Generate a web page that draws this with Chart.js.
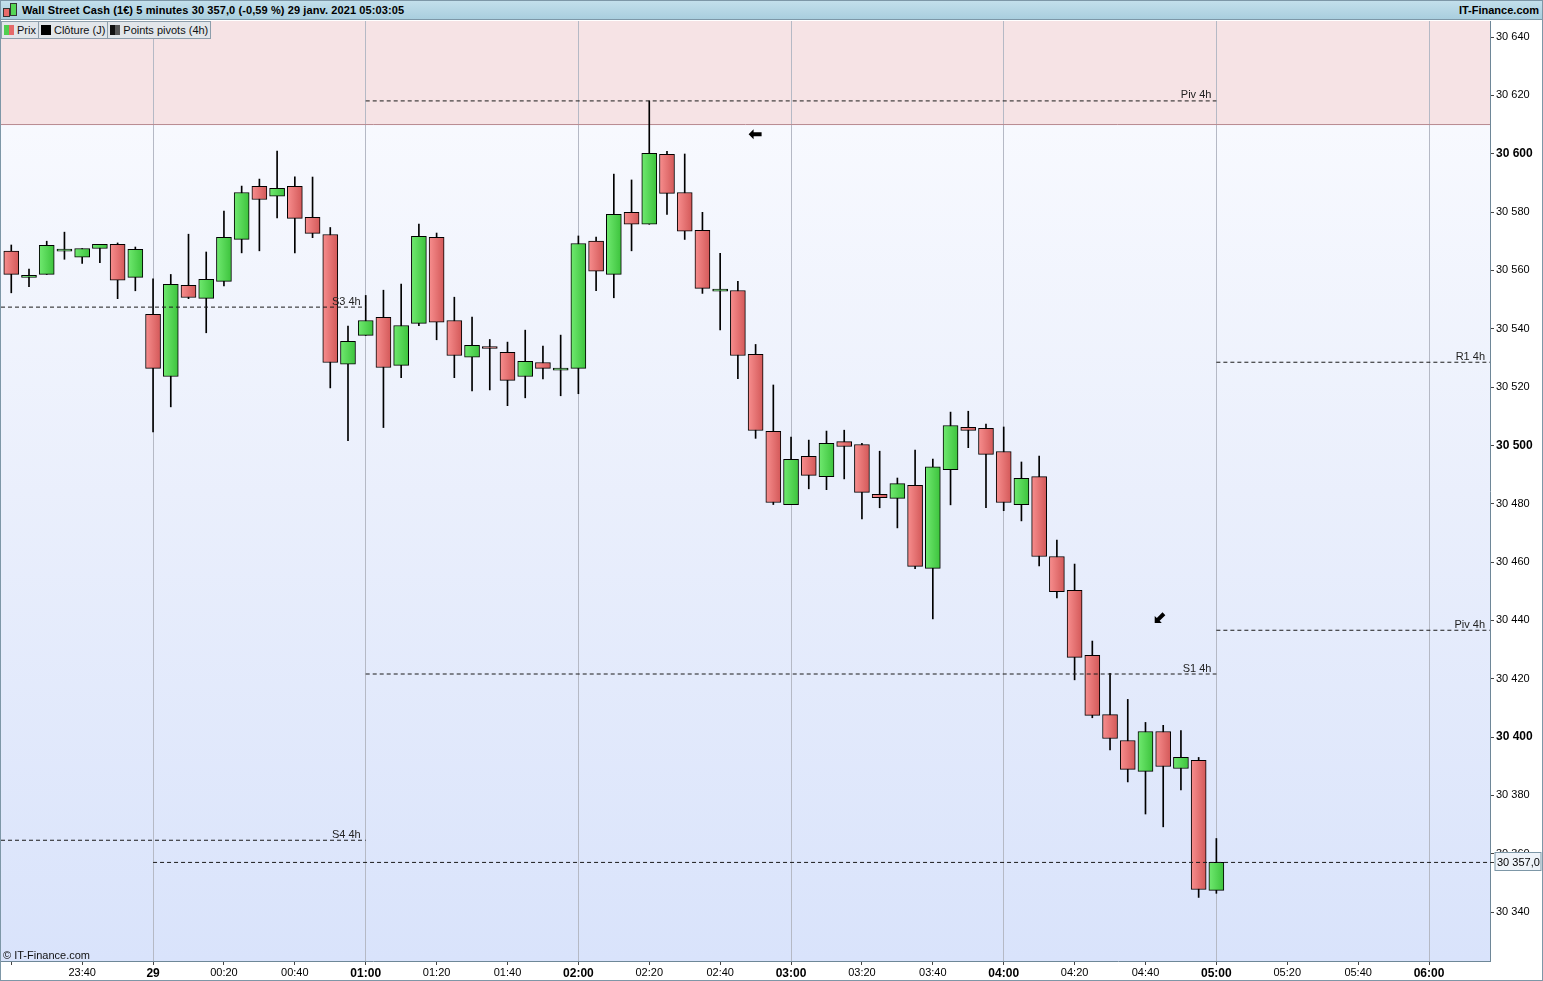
<!DOCTYPE html>
<html>
<head>
<meta charset="utf-8">
<title>Wall Street Cash (1€) 5 minutes</title>
<script src="https://cdn.jsdelivr.net/npm/chart.js@4.4.1/dist/chart.umd.min.js"></script>
<style>
  body { margin: 0; background: #fff; font-family: "Liberation Sans", Arial, sans-serif; }
  #wrap { position: relative; width: 1543px; height: 981px; overflow: hidden; }
  #chart { position: absolute; left: 0; top: 0; }
  #head {
    position: absolute; left: 0; top: 0; width: 1543px; height: 20px;
    background: linear-gradient(#c4e0ec, #a9cede);
    border-bottom: 1px solid #7d97a7; box-sizing: border-box;
    font-weight: bold; font-size: 11px; color: #000;
  }
  #head .title { position: absolute; left: 22px; top: 4px; letter-spacing: 0.1px; }
  #head .brand { position: absolute; right: 4px; top: 4px; }
  #head .ic { position: absolute; border: 1px solid #333; }
  #legend { position: absolute; left: 1px; top: 21px; height: 17px; display: flex; }
  #legend span {
    display: flex; align-items: center; height: 16px; padding: 0 2px 0 2px;
    background: #e2e6ea; border: 1px solid #8d9eab; border-left: none;
    font-size: 11px; color: #111;
  }
  #legend span:first-child { border-left: 1px solid #8d9eab; }
  #legend i { display: inline-block; width: 10px; height: 10px; margin-right: 3px; }
  #copy { position: absolute; left: 3px; top: 949px; font-size: 11px; color: #111; }
  #frame { position: absolute; left: 0; top: 0; width: 1543px; height: 981px; box-sizing: border-box; border: 1px solid #7d97a7; pointer-events: none; }
</style>
</head>
<body>
<div id="wrap">
  <canvas id="chart" width="1543" height="981"></canvas>
  <div id="head">
    <div class="ic" style="left:3px;top:8px;width:5px;height:7px;background:#e86a6a"></div>
    <div class="ic" style="left:10px;top:3px;width:5px;height:11px;background:#55d655"></div>
    <div class="title">Wall Street Cash (1€) 5 minutes 30 357,0 (-0,59 %) 29 janv. 2021 05:03:05</div>
    <div class="brand">IT-Finance.com</div>
  </div>
  <div id="legend">
    <span><i style="background:linear-gradient(90deg,#4fcf4f 50%,#e56a6a 50%)"></i>Prix</span>
    <span><i style="background:#000"></i>Clôture (J)</span>
    <span><i style="background:linear-gradient(90deg,#111 50%,#555 50%)"></i>Points pivots (4h)</span>
  </div>
  <div id="copy">© IT-Finance.com</div>
  <div id="frame"></div>
</div>
<script>
// 5 minute candles, 28 -> 29 janv. 2021
var times = ["23:20","23:25","23:30","23:35","23:40","23:45","23:50","23:55",
  "00:00","00:05","00:10","00:15","00:20","00:25","00:30","00:35","00:40","00:45","00:50","00:55",
  "01:00","01:05","01:10","01:15","01:20","01:25","01:30","01:35","01:40","01:45","01:50","01:55",
  "02:00","02:05","02:10","02:15","02:20","02:25","02:30","02:35","02:40","02:45","02:50","02:55",
  "03:00","03:05","03:10","03:15","03:20","03:25","03:30","03:35","03:40","03:45","03:50","03:55",
  "04:00","04:05","04:10","04:15","04:20","04:25","04:30","04:35","04:40","04:45","04:50","04:55",
  "05:00"];

var open = [30566.6,30557.6,30558.6,30566.6,30564.5,30567.5,30568.9,30557.6,
  30544.9,30523.6,30554.9,30550.4,30556.2,30570.6,30588.8,30585.4,30588.8,30578.2,30572.3,30527.8,
  30537.7,30543.9,30527.4,30541.8,30571.3,30542.8,30530.2,30533.9,30531.9,30523.6,30528.4,30525.8,
  30526.4,30570.0,30558.6,30579.9,30575.8,30599.8,30586.7,30573.7,30552.9,30553.1,30531.2,30504.8,
  30479.7,30496.2,30489.3,30501.3,30500.3,30483.2,30481.8,30486.3,30457.8,30491.7,30506.2,30505.8,
  30497.9,30479.7,30489.3,30461.9,30450.3,30428.0,30407.7,30398.8,30388.2,30401.9,30389.2,30392.0,
  30347.4];
var high = [30568.7,30560.4,30570.0,30573.1,30567.5,30568.9,30569.4,30568.0,
  30557.1,30558.6,30572.4,30566.3,30580.3,30588.9,30591.3,30600.9,30592.1,30592.0,30574.7,30540.9,
  30551.4,30553.2,30555.3,30575.9,30572.8,30550.8,30544.0,30536.3,30535.4,30539.5,30534.0,30537.8,
  30571.8,30571.4,30593.0,30591.0,30618.1,30600.8,30599.9,30579.9,30565.8,30556.2,30534.6,30520.7,
  30502.8,30501.8,30504.9,30505.2,30500.7,30498.0,30488.8,30498.4,30495.3,30511.4,30511.7,30507.3,
  30506.3,30494.3,30496.3,30467.5,30459.3,30432.9,30421.8,30412.9,30405.0,30404.0,30402.2,30393.0,
  30365.2];
var low = [30552.3,30554.4,30558.6,30563.8,30562.4,30562.6,30550.3,30553.0,
  30504.6,30513.2,30550.3,30538.6,30554.7,30566.0,30566.7,30578.0,30566.0,30571.2,30519.7,30501.6,
  30537.7,30506.1,30523.2,30541.0,30536.2,30523.2,30518.7,30519.0,30513.6,30516.3,30522.8,30517.0,
  30517.7,30553.0,30550.6,30566.7,30575.8,30579.2,30570.6,30552.1,30539.6,30522.9,30502.4,30479.7,
  30479.7,30485.1,30484.8,30488.5,30474.8,30478.6,30471.7,30457.7,30440.5,30479.6,30499.2,30478.6,
  30477.6,30474.1,30458.7,30447.7,30419.6,30406.6,30395.6,30384.6,30373.6,30369.2,30381.9,30345.0,
  30346.4];
var close = [30558.6,30558.3,30568.6,30566.6,30567.5,30568.9,30556.6,30567.2,
  30526.4,30555.2,30550.7,30556.9,30571.3,30586.7,30584.3,30588.1,30577.8,30572.7,30528.4,30535.7,
  30542.8,30526.7,30541.1,30571.7,30542.2,30530.8,30534.3,30533.2,30522.3,30528.8,30526.4,30525.8,
  30569.2,30559.7,30579.2,30575.8,30600.1,30586.4,30573.4,30553.8,30552.9,30530.8,30505.1,30480.4,
  30495.2,30489.7,30500.7,30499.6,30483.9,30482.1,30486.9,30458.5,30492.6,30506.8,30505.1,30496.9,
  30480.4,30488.7,30461.9,30449.8,30427.3,30407.4,30399.5,30388.9,30401.9,30389.9,30393.0,30347.7,
  30357.0];

// pivot points (4h), each with the period it covers
var pivotNames = ["S3 4h", "S4 4h", "Piv 4h", "S1 4h", "R1 4h", "Piv 4h"];
var pivotValues = [30547.4, 30364.6, 30618.1, 30421.6, 30528.5, 30436.6];
var pivotFrom = ["start", "start", "01:00", "01:00", "05:00", "05:00"];
var pivotTo = ["01:00", "01:00", "05:00", "05:00", "end", "end"];

var prevClose = 30610;      // Clôture (J)
var lastPrice = 30357.0;
var lastPriceFrom = "00:00";
var lastPriceText = "30 357,0";

// markers
var arrowTimes = ["02:50", "04:44"];
var arrowValues = [30606.7, 30440.8];
var arrowAngles = [0, -45];

// axes
var xTickValues = [-40,-20,0,20,40,60,80,100,120,140,160,180,200,220,240,260,280,300,320,340,360];
var xTickLabels = ["","23:40","29","00:20","00:40","01:00","01:20","01:40","02:00","02:20","02:40",
  "03:00","03:20","03:40","04:00","04:20","04:40","05:00","05:20","05:40","06:00"];
var yTickValues = [30340,30360,30380,30400,30420,30440,30460,30480,30500,30520,30540,30560,30580,30600,30620,30640];
var xMin = -42.9, xMax = 377.2;
var yMin = 30323.2, yMax = 30645.5;

function toMin(t) {
  if (t === "start") return xMin;
  if (t === "end") return xMax;
  var p = t.split(":").map(Number);
  return (p[0] >= 12 ? p[0] - 24 : p[0]) * 60 + p[1];
}
function fmtNum(v) {
  return String(Math.round(v)).replace(/\B(?=(\d{3})+(?!\d))/g, " ");
}

var mins = times.map(toMin);
var FONT = "'Liberation Sans', Arial, sans-serif";
Chart.defaults.font.family = FONT;

function bodyFill(ctx) {
  var i = ctx.dataIndex;
  if (i === undefined) return "#888";
  var up = close[i] >= open[i];
  var cols = up ? ["#6ee86e", "#3ec43e"] : ["#f68c8c", "#d45a5a"];
  var chart = ctx.chart;
  var xs = chart.scales && chart.scales.x;
  if (!chart.chartArea || !xs) return cols[0];
  var px = xs.getPixelForValue(mins[i]);
  var g = chart.ctx.createLinearGradient(px - 7, 0, px + 7, 0);
  g.addColorStop(0, cols[0]);
  g.addColorStop(1, cols[1]);
  return g;
}

function hline(label, value, from, to, order, color) {
  return {
    type: "line", label: label,
    data: [{ x: toMin(from), y: value }, { x: toMin(to), y: value }],
    borderColor: color || "#1a1a1a", borderWidth: 1, borderDash: [4, 3],
    pointRadius: 0, fill: false, order: order
  };
}

var datasets = [
  {
    type: "line", label: "Clôture (J)",
    data: [{ x: xMin, y: prevClose }, { x: xMax, y: prevClose }],
    borderColor: "#b88a90", borderWidth: 1, pointRadius: 0, fill: false, order: 6
  },
  {
    type: "bar", label: "mèches",
    data: mins.map(function (m, i) { return { x: m, y: [low[i], high[i]] }; }),
    backgroundColor: "#000", borderWidth: 0, barThickness: 1, grouped: false, order: 5
  },
  {
    type: "bar", label: "Prix",
    data: mins.map(function (m, i) { return { x: m, y: [open[i], close[i]] }; }),
    backgroundColor: bodyFill, borderColor: "#000", borderWidth: 1, borderSkipped: false,
    barThickness: 15, minBarLength: 2, grouped: false, order: 4
  }
];
pivotNames.forEach(function (n, i) {
  datasets.push(hline(n, pivotValues[i], pivotFrom[i], pivotTo[i], 2));
});
datasets.push(hline("Dernier", lastPrice, lastPriceFrom, "end", 1));

var decorPlugin = {
  id: "decor",
  beforeDraw: function (chart) {
    var c = chart.ctx, a = chart.chartArea, y = chart.scales.y;
    c.save();
    var g = c.createLinearGradient(0, a.top, 0, a.bottom);
    g.addColorStop(0, "#fbfcff");
    g.addColorStop(0.5, "#eaeffc");
    g.addColorStop(1, "#d9e3fb");
    c.fillStyle = g;
    c.fillRect(a.left, a.top, a.right - a.left, a.bottom - a.top);
    var yc = y.getPixelForValue(prevClose);
    c.fillStyle = "#f6e3e5";
    c.fillRect(a.left, a.top, a.right - a.left, yc - a.top);
    c.restore();
  },
  afterDatasetsDraw: function (chart) {
    var c = chart.ctx, x = chart.scales.x, y = chart.scales.y;
    c.save();
    c.font = "11px " + FONT;
    c.fillStyle = "#222";
    c.textAlign = "right";
    c.textBaseline = "bottom";
    pivotNames.forEach(function (n, i) {
      var px = x.getPixelForValue(toMin(pivotTo[i]));
      var py = y.getPixelForValue(pivotValues[i]);
      c.fillText(n, px - 5, py);
    });
    c.fillStyle = "#000";
    arrowTimes.forEach(function (t, i) {
      var px = x.getPixelForValue(toMin(t));
      var py = y.getPixelForValue(arrowValues[i]);
      c.save();
      c.translate(px, py);
      c.rotate(arrowAngles[i] * Math.PI / 180);
      c.beginPath();
      c.moveTo(-7, 0); c.lineTo(-2, -5); c.lineTo(-2, -2); c.lineTo(6, -2);
      c.lineTo(6, 2); c.lineTo(-2, 2); c.lineTo(-2, 5); c.closePath();
      c.fill();
      c.restore();
    });
    c.restore();
  },
  afterDraw: function (chart) {
    var c = chart.ctx, a = chart.chartArea, y = chart.scales.y;
    var py = Math.round(y.getPixelForValue(lastPrice)) + 0.5;
    c.save();
    c.strokeStyle = "#333";
    c.beginPath(); c.moveTo(a.right, py); c.lineTo(a.right + 4, py); c.stroke();
    c.fillStyle = "#eef3f9";
    c.fillRect(a.right + 5, py - 10, 46, 18);
    c.strokeStyle = "#7d97a7";
    c.strokeRect(a.right + 5, py - 10, 46, 18);
    c.fillStyle = "#000";
    c.font = "11px " + FONT;
    c.textBaseline = "middle";
    c.fillText(lastPriceText, a.right + 7, py);
    c.restore();
  }
};

new Chart(document.getElementById("chart"), {
  type: "bar",
  data: { datasets: datasets },
  options: {
    responsive: false,
    animation: false,
    events: [],
    layout: { padding: { top: 21, left: 1, right: 0, bottom: 0 } },
    plugins: { legend: { display: false }, tooltip: { enabled: false } },
    scales: {
      x: {
        type: "linear", min: xMin, max: xMax, offset: false,
        afterBuildTicks: function (s) { s.ticks = xTickValues.map(function (v) { return { value: v }; }); },
        afterFit: function (s) { s.height = 20; },
        grid: {
          offset: false, drawOnChartArea: true, tickLength: 4, tickColor: "#444",
          color: function (ctx) { return ctx.tick && ctx.tick.value % 60 === 0 ? "#b5b9c5" : "rgba(0,0,0,0)"; }
        },
        border: { color: "#6e8798" },
        ticks: {
          autoSkip: false, maxRotation: 0, padding: 1, color: "#000",
          font: function (ctx) {
            var bold = ctx.tick && ctx.tick.value % 60 === 0;
            return { family: "'Liberation Sans Narrow', " + FONT, size: bold ? 12 : 11, weight: bold ? "bold" : "normal" };
          },
          callback: function (v, i) { return xTickLabels[i]; }
        }
      },
      y: {
        position: "right", min: yMin, max: yMax,
        afterBuildTicks: function (s) { s.ticks = yTickValues.map(function (v) { return { value: v }; }); },
        afterFit: function (s) { s.width = 53; },
        grid: { drawOnChartArea: false, tickLength: 4, tickColor: "#444" },
        border: { color: "#6e8798" },
        ticks: {
          padding: 2, color: "#000",
          font: function (ctx) {
            var bold = ctx.tick && ctx.tick.value % 100 === 0;
            return { family: FONT, size: bold ? 12 : 11, weight: bold ? "bold" : "normal" };
          },
          callback: function (v) { return fmtNum(v); }
        }
      }
    }
  },
  plugins: [decorPlugin]
});
</script>
</body>
</html>
